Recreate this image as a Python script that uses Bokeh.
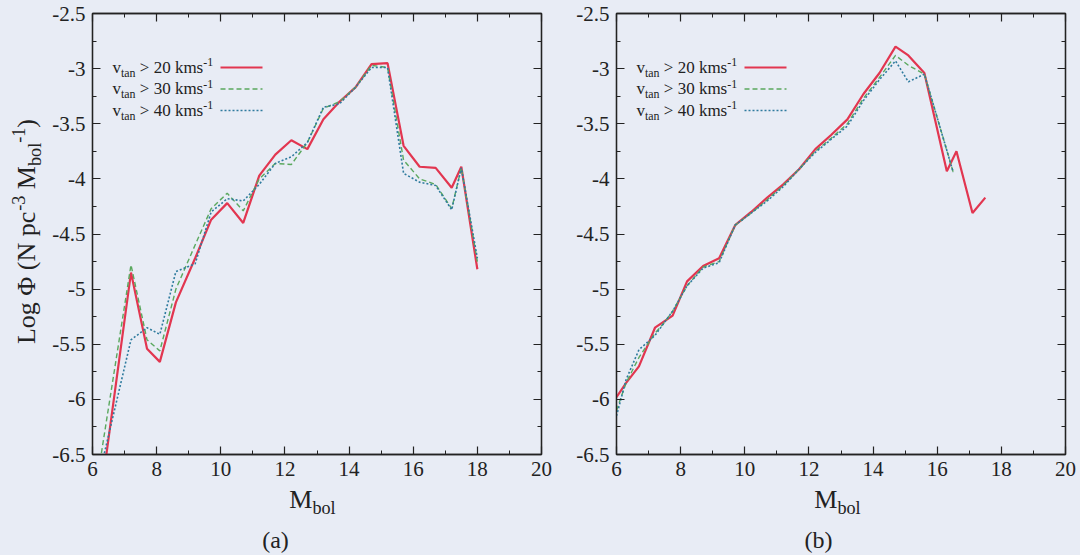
from bokeh.plotting import figure
from bokeh.layouts import row, column
from bokeh.models import (Range1d, FixedTicker, LinearAxis, Label,
                          CustomJSTickFormatter)
from bokeh.embed import file_html
from bokeh.resources import INLINE

# ---------------- data ----------------
# (a) luminosity function, three tangential-velocity cuts
mbol_a = [6.2, 7.2, 7.7, 8.1, 8.6, 9.2, 9.7, 10.2, 10.7, 11.2, 11.7, 12.2,
          12.7, 13.2, 13.7, 14.2, 14.7, 15.2, 15.7, 16.2, 16.7, 17.2, 17.5, 18.0]
phi_a_20 = [-7.0, -4.85, -5.54, -5.66, -5.12, -4.72, -4.37, -4.22, -4.40, -3.97,
            -3.78, -3.65, -3.73, -3.46, -3.30, -3.17, -2.96, -2.95, -3.70, -3.89,
            -3.90, -4.08, -3.89, -4.82]
phi_a_30 = [-6.63, -4.78, -5.46, -5.56, -5.00, -4.60, -4.27, -4.13, -4.29, -4.00,
            -3.86, -3.87, -3.67, -3.36, -3.30, -3.17, -2.97, -2.99, -3.83, -4.00,
            -4.05, -4.27, -3.90, -4.75]
phi_a_40 = [-6.70, -5.46, -5.35, -5.41, -4.84, -4.77, -4.30, -4.18, -4.20, -4.05,
            -3.86, -3.80, -3.67, -3.35, -3.32, -3.17, -2.99, -2.99, -3.95, -4.03,
            -4.06, -4.28, -3.90, -4.72]

# (b)
mbol_b_20 = [6.0, 6.3, 6.7, 7.2, 7.5, 7.75, 8.2, 8.7, 9.2, 9.7, 10.2, 10.7, 11.2,
             11.7, 12.2, 12.7, 13.2, 13.7, 14.2, 14.7, 15.1, 15.6, 16.3, 16.6,
             17.1, 17.5]
phi_b_20 = [-5.98, -5.85, -5.70, -5.35, -5.29, -5.24, -4.93, -4.79, -4.72, -4.42,
            -4.30, -4.17, -4.05, -3.91, -3.73, -3.60, -3.46, -3.23, -3.04, -2.80,
            -2.88, -3.04, -3.93, -3.75, -4.31, -4.17]
mbol_b = [6.0, 6.3, 6.7, 7.2, 7.5, 7.75, 8.2, 8.7, 9.2, 9.7, 10.2, 10.7, 11.2,
          11.7, 12.2, 12.7, 13.2, 13.7, 14.2, 14.7, 15.1, 15.6, 16.5]
phi_b_30 = [-6.10, -5.85, -5.62, -5.40, -5.30, -5.20, -4.97, -4.80, -4.75, -4.42,
            -4.31, -4.19, -4.06, -3.91, -3.75, -3.63, -3.50, -3.27, -3.08, -2.88,
            -2.97, -3.05, -3.94]
phi_b_40 = [-6.15, -5.82, -5.55, -5.42, -5.30, -5.20, -4.97, -4.81, -4.76, -4.42,
            -4.31, -4.20, -4.07, -3.91, -3.76, -3.64, -3.52, -3.29, -3.10, -2.93,
            -3.12, -3.05, -3.94]

x_ticks = [6, 8, 10, 12, 14, 16, 18, 20]
x_minor = [7, 9, 11, 13, 15, 17, 19]
y_ticks = [-6.5, -6, -5.5, -5, -4.5, -4, -3.5, -3, -2.5]
y_minor = [-6.25, -5.75, -5.25, -4.75, -4.25, -3.75, -3.25, -2.75]
cuts = ["20", "30", "40"]

# ---------------- styling ----------------
BG = "#e8ecf5"
INK = "#222222"
SERIF = "Liberation Serif, Times New Roman, serif"
STYLES = [dict(color="#e23650", line_width=2.2),
          dict(color="#5aa85e", line_width=1.4, line_dash="5 3"),
          dict(color="#2f7b9e", line_width=1.6, line_dash="2 2")]

FRAME_W, FRAME_H = 449, 441
X0, X1, Y0, Y1 = 6, 20, -6.5, -2.5
PX_X = FRAME_W / (X1 - X0)
PX_Y = FRAME_H / (Y1 - Y0)
PANEL_H, CAPTION_H, YLAB_W = 485, 70, 44
WA, WB = 510, 526          # widths of the two panel columns
BASE_FIX = 0.36            # lift applied to labels so the baseline lands where asked

# Times-style advance widths (em units) for laying out mixed-size runs
ADV = {' ': .25, '(': .333, ')': .333, '-': .333, '.': .25, '>': .564,
       'L': .611, 'M': .889, 'N': .722, 'Φ': .763, 'a': .444, 'b': .5,
       'c': .444, 'g': .5, 'k': .5, 'l': .278, 'm': .778, 'n': .5, 'o': .5,
       'p': .5, 's': .389, 't': .278, 'v': .5}


def adv(txt, size):
    return sum(ADV.get(ch, .5) for ch in txt) * size


def rich(p, pieces, ax, ay, size, dx=0.0, dy=0.0, vertical=False, center=False):
    """Lay out a run of normal / sub / sup pieces as separate labels."""
    scaled = []
    for txt, kind in pieces:
        fs = size if kind == "n" else size * 0.7
        shift = {"n": 0.0, "sub": -0.22 * size, "sup": 0.42 * size}[kind]
        scaled.append((txt, fs, shift + BASE_FIX * fs))
    total = sum(adv(t, fs) for t, fs, _ in scaled)
    pos = -total / 2 if center else 0.0
    for txt, fs, shift in scaled:
        lead = len(txt) - len(txt.lstrip(" "))
        pos += adv(" " * lead, fs)
        body = txt.strip(" ")
        if vertical:
            xo, yo, ang = dx - shift, dy + pos, 1.5707963
        else:
            xo, yo, ang = dx + pos, dy + shift, 0.0
        p.add_layout(Label(x=ax, y=ay, x_offset=xo, y_offset=yo, text=body,
                           angle=ang, text_font=SERIF, text_font_size=f"{fs:.1f}px",
                           text_color=INK, text_align="left",
                           text_baseline="alphabetic"))
        pos += adv(txt[lead:], fs)


def style_axis(ax, ticks, minor, show_labels=True):
    ax.ticker = FixedTicker(ticks=ticks, minor_ticks=minor)
    ax.axis_line_color = INK
    ax.axis_line_width = 1.3
    ax.major_tick_line_color = INK
    ax.minor_tick_line_color = INK
    ax.major_tick_line_width = 1.2
    ax.minor_tick_line_width = 1.0
    ax.major_tick_in = 8
    ax.major_tick_out = 0
    ax.minor_tick_in = 4
    ax.minor_tick_out = 0
    ax.major_label_text_font = SERIF
    ax.major_label_text_color = INK
    if show_labels:
        ax.formatter = CustomJSTickFormatter(code="return String(tick);")
        ax.major_label_text_font_size = "21px"
        ax.major_label_standoff = 7
    else:
        ax.formatter = CustomJSTickFormatter(code="return '';")
        ax.major_label_standoff = 0


def blank(width, height, x_lo, y_top):
    """Plain canvas whose data units are page pixels (y grows downward)."""
    p = figure(width=width, height=height, output_backend="svg",
               toolbar_location=None, x_axis_type=None, y_axis_type=None,
               x_range=Range1d(x_lo, x_lo + width),
               y_range=Range1d(y_top + height, y_top), min_border=0)
    p.background_fill_color = BG
    p.border_fill_color = BG
    p.outline_line_color = None
    p.grid.visible = False
    return p


def panel(series, width, border_left, border_right):
    p = figure(width=width, height=PANEL_H, output_backend="svg",
               toolbar_location=None, x_range=Range1d(X0, X1),
               y_range=Range1d(Y0, Y1), min_border_left=border_left,
               min_border_right=border_right, min_border_top=13,
               min_border_bottom=PANEL_H - 13 - FRAME_H)
    p.background_fill_color = BG
    p.border_fill_color = BG
    p.outline_line_color = INK
    p.outline_line_width = 1.3
    p.grid.visible = False
    style_axis(p.xaxis[0], x_ticks, x_minor)
    style_axis(p.yaxis[0], y_ticks, y_minor)
    top = LinearAxis()
    style_axis(top, x_ticks, x_minor, show_labels=False)
    p.add_layout(top, "above")
    right = LinearAxis()
    style_axis(right, y_ticks, y_minor, show_labels=False)
    p.add_layout(right, "right")

    for (xs, ys), st in zip(series, STYLES):
        p.line(xs, ys, **st)

    # key: text then sample line, three rows below the top-left corner
    for i, (cut, st) in enumerate(zip(cuts, STYLES)):
        base = 60 + 21.5 * i
        rich(p, [("v", "n"), ("tan", "sub"), (f" > {cut} kms", "n"), ("-1", "sup")],
             X0, Y1, 17, dx=20, dy=-base)
        ky = Y1 - (base - 6) / PX_Y
        p.line([X0 + 128 / PX_X, X0 + 170 / PX_X], [ky, ky], **st)
    return p


frame_a_left = 92
frame_b_left = 616
pa = panel([(mbol_a, phi_a_20), (mbol_a, phi_a_30), (mbol_a, phi_a_40)],
           WA, frame_a_left - YLAB_W, WA - (frame_a_left - YLAB_W) - FRAME_W)
pb = panel([(mbol_b_20, phi_b_20), (mbol_b, phi_b_30), (mbol_b, phi_b_40)],
           WB, frame_b_left - YLAB_W - WA, WB - (frame_b_left - YLAB_W - WA) - FRAME_W)

# captions under each panel: x label and panel tag
cap_a = blank(WA, CAPTION_H, YLAB_W, PANEL_H)
rich(cap_a, [("M", "n"), ("bol", "sub")], frame_a_left + 220, 508, 26, center=True)
rich(cap_a, [("(a)", "n")], 275, 548, 24, center=True)
cap_b = blank(WB, CAPTION_H, YLAB_W + WA, PANEL_H)
rich(cap_b, [("M", "n"), ("bol", "sub")], frame_b_left + 221, 508, 26, center=True)
rich(cap_b, [("(b)", "n")], 818, 548, 24, center=True)

# rotated y label strip on the far left
ylab = blank(YLAB_W, PANEL_H + CAPTION_H, 0, 0)
rich(ylab, [("Log Φ (N pc", "n"), ("-3", "sup"), (" M", "n"), ("bol", "sub"),
            ("-1", "sup"), (")", "n")],
     35, 231, 26, vertical=True, center=True)

fill = {"background-color": BG}
layout = row(ylab,
             column(row(pa, pb, styles=fill), row(cap_a, cap_b, styles=fill),
                    styles=fill),
             styles=fill)
open("out.html", "w").write(file_html(layout, INLINE))
